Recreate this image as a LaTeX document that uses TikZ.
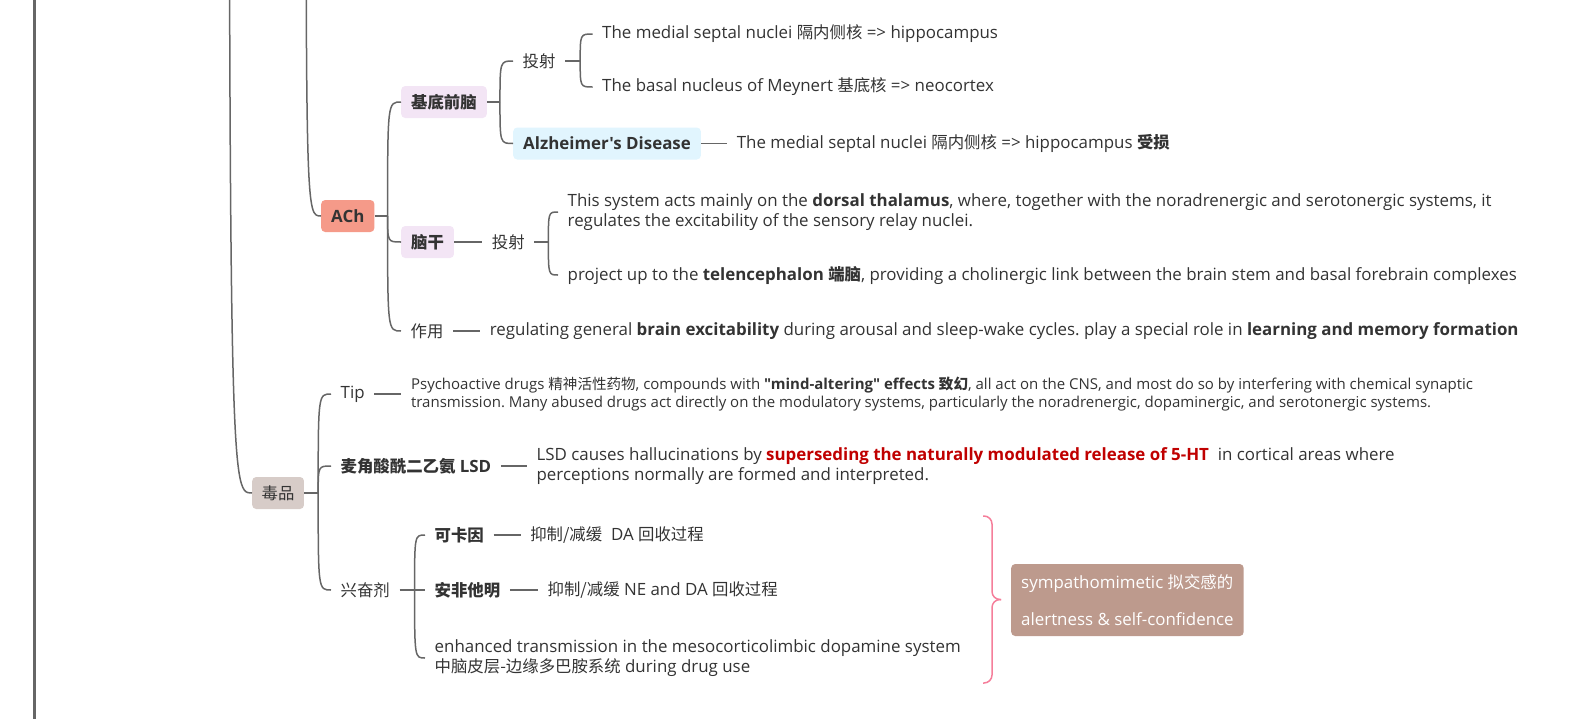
\documentclass[tikz,border=0pt]{standalone}
\usepackage{fontspec}
\setmainfont{Open Sans}[Ligatures=TeXOff]
\newfontfamily\cjk[Scale=0.97]{Noto Sans CJK SC}
\usetikzlibrary{positioning, calc}
\definecolor{inkc}{RGB}{51,51,51}
\definecolor{linec}{RGB}{102,102,102}
\definecolor{achc}{RGB}{245,154,137}
\definecolor{lavc}{RGB}{243,229,245}
\definecolor{skyc}{RGB}{225,245,254}
\definecolor{drugc}{RGB}{215,204,200}
\definecolor{sumc}{RGB}{189,154,141}
\definecolor{bracec}{RGB}{245,126,154}
\definecolor{hotc}{RGB}{192,0,0}
\newcommand{\bodyfont}{\fontsize{16.9}{20}\selectfont}
\newcommand{\tipfont}{\fontsize{15}{18}\selectfont}
\frenchspacing
\tikzset{
  topic/.style={rectangle, rounded corners=4pt, inner xsep=10pt, inner ysep=0pt,
    minimum height=32pt, text=inkc, font=\bodyfont\bfseries, anchor=west},
  leaf/.style={inner xsep=9.5pt, inner ysep=2pt, text=inkc, align=left, anchor=west},
  conn/.style={draw=linec, line width=1.5pt},
  twig/.style={conn, to path={.. controls (\tikztostart |- \tikztotarget) .. (\tikztotarget)}},
  sumbrace/.style={draw=bracec, line width=1.5pt, rounded corners=8pt},
}

\begin{document}
\begin{tikzpicture}[x=1pt, y=-1pt, font=\bodyfont, text=inkc]
  \useasboundingbox (0,0) rectangle (1578,718);
  \clip (0,0) rectangle (1578,718);

  % branches that come in from above the page
  \coordinate (root) at (34.5,-40);
  \coordinate (rootend) at (34.5,760);
  \draw[conn, line width=3pt] (root) -- (rootend);
  \coordinate (up1) at (229,-957);
  \coordinate (up2) at (306,-320);

  % ACh
  \node[topic, fill=achc] (ach) at (321,216) {ACh};
  \draw[twig] (up2) to (ach.west);
  \node[topic, fill=lavc] (bfb) at (401,102) {\cjk 基底前脑};
  \node[topic, fill=lavc] (ngan) at (401,242) {\cjk 脑干};
  \node[leaf] (zuoy) at (401,331) {\cjk 作用};
  \draw[conn] (ach.east) -- ++(13,0) coordinate (achs);
  \foreach \c in {bfb, ngan, zuoy} \draw[twig] (achs) to (\c.west);

  % basal forebrain
  \node[leaf] (ts1) at (513,61) {\cjk 投射};
  \node[topic, fill=skyc] (ad) at (513,143.5) {Alzheimer's Disease};
  \draw[conn] (bfb.east) -- ++(13,0) coordinate (bfbs);
  \foreach \c in {ts1, ad} \draw[twig] (bfbs) to (\c.west);
  \node[leaf] (ms) at (592.5,34) {The medial septal nuclei {\cjk 隔内侧核} => hippocampus};
  \node[leaf] (bm) at (592.5,87) {The basal nucleus of Meynert {\cjk 基底核} => neocortex};
  \draw[conn] (ts1.east) -- ++(15,0) coordinate (ts1s);
  \foreach \c in {ms, bm} \draw[twig] (ts1s) to (\c.west);
  \node[leaf, right=26pt of ad] (adl) {The medial septal nuclei {\cjk 隔内侧核} => hippocampus \textbf{\cjk 受损}};
  \draw[conn] (ad.east) -- (adl.west);

  % brain stem
  \node[leaf, right=28pt of ngan] (ts2) {\cjk 投射};
  \draw[conn] (ngan.east) -- (ts2.west);
  \node[leaf] (dt) at (558,212) {This system acts mainly on the \textbf{dorsal thalamus}, where, together with the noradrenergic and serotonergic systems, it\\regulates the excitability of the sensory relay nuclei.};
  \node[leaf] (tel) at (558,275) {project up to the \textbf{telencephalon {\cjk 端脑}}, providing a cholinergic link between the brain stem and basal forebrain complexes};
  \draw[conn] (ts2.east) -- ++(14,0) coordinate (ts2s);
  \foreach \c in {dt, tel} \draw[twig] (ts2s) to (\c.west);
  \node[leaf, right=27pt of zuoy] (zyl) {regulating general \textbf{brain excitability} during arousal and sleep-wake cycles. play a special role in \textbf{learning and memory formation}};
  \draw[conn] (zuoy.east) -- (zyl.west);

  % drugs
  \node[topic, fill=drugc, font=\bodyfont, inner xsep=9.5pt] (dup) at (252,493) {\cjk 毒品};
  \draw[twig] (up1) to (dup.west);
  \node[leaf] (tip) at (331,394) {Tip};
  \node[leaf, font=\bodyfont\bfseries] (lsd) at (331,466) {{\cjk 麦角酸酰二乙氨} LSD};
  \node[leaf] (xfj) at (331,590) {\cjk 兴奋剂};
  \draw[conn] (dup.east) -- ++(14,0) coordinate (dups);
  \foreach \c in {tip, lsd, xfj} \draw[twig] (dups) to (\c.west);
  \node[leaf, right=27pt of tip, font=\tipfont] (tipl) {Psychoactive drugs {\cjk 精神活性药物}, compounds with \textbf{"mind-altering" effects {\cjk 致幻}}, all act on the CNS, and most do so by interfering with chemical synaptic\\transmission. Many abused drugs act directly on the modulatory systems, particularly the noradrenergic, dopaminergic, and serotonergic systems.};
  \draw[conn] (tip.east) -- (tipl.west);
  \node[leaf, right=26pt of lsd] (lsdl) {LSD causes hallucinations by \textcolor{hotc}{\textbf{superseding the naturally modulated release of 5-HT}}\ \ in cortical areas where\\perceptions normally are formed and interpreted.};
  \draw[conn] (lsd.east) -- (lsdl.west);

  % stimulants
  \node[leaf, font=\bodyfont\bfseries] (kky) at (425,535) {\cjk 可卡因};
  \node[leaf, font=\bodyfont\bfseries] (afm) at (425,590) {\cjk 安非他明};
  \node[leaf] (enh) at (425,658) {enhanced transmission in the mesocorticolimbic dopamine system\\{\cjk 中脑皮层-边缘多巴胺系统} during drug use};
  \draw[conn] (xfj.east) -- ++(15,0) coordinate (xfjs);
  \foreach \c in {kky, afm, enh} \draw[twig] (xfjs) to (\c.west);
  \node[leaf, right=27pt of kky] (kkyl) {{\cjk 抑制/减缓}\ \ DA {\cjk 回收过程}};
  \node[leaf, right=28pt of afm] (afml) {{\cjk 抑制/减缓} NE and DA {\cjk 回收过程}};
  \draw[conn] (kky.east) -- (kkyl.west);
  \draw[conn] (afm.east) -- (afml.west);

  % summary
  \coordinate (bt) at (983,516);
  \coordinate (bmid) at (992,599.5);
  \coordinate (btip) at (1001,599.5);
  \coordinate (bb) at (983,683);
  \draw[sumbrace] (bt) -| (bmid) -- (btip);
  \draw[sumbrace] (btip) -- (bmid) |- (bb);
  \node[topic, fill=sumc, text=white, font=\fontsize{16.9}{37}\selectfont, align=left,
        minimum height=72pt] (sum) at (1011,600) {sympathomimetic {\cjk 拟交感的}\\alertness \& self-confidence};
\end{tikzpicture}
\end{document}
